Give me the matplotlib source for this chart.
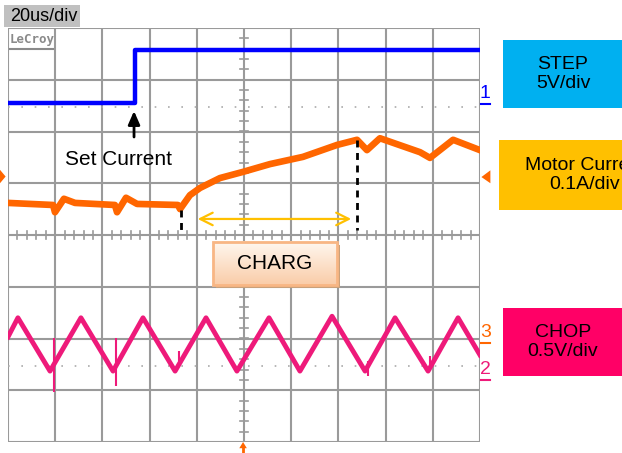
import numpy as np
import matplotlib
matplotlib.use('Agg')
import matplotlib.pyplot as plt
from matplotlib.patches import Rectangle, Polygon

plt.rcParams['font.family'] = ['Liberation Sans', 'DejaVu Sans']

W, H = 622, 453

# scope screen: 10 divisions x 20us, 8 vertical divisions
TIME_PER_DIV = 20

# channel 1 STEP (time us, screen divisions)
step_t = [0, 53.8, 53.8, 200]
step_y = [2.55, 2.55, 3.575, 3.575]

# motor current trace
cur_t = [0, 19.1, 19.9, 23.7, 28.4, 45.3, 46.2, 50.0, 54.7, 72.0, 72.9, 77.1, 81.4,
         89.8, 99.6, 111.0, 125.0, 139.4, 147.9, 152.1, 157.6, 174.6, 178.8,
         188.6, 200]
cur_y = [0.62, 0.58, 0.44, 0.70, 0.62, 0.58, 0.44, 0.72, 0.60, 0.58, 0.50, 0.77, 0.91,
         1.10, 1.22, 1.37, 1.51, 1.74, 1.84, 1.64, 1.87, 1.60, 1.49, 1.84, 1.64]

# chopper triangle
chop_t = [0, 4.2, 17.8, 30.9, 44.5, 57.2, 70.8, 83.9, 97.0, 110.6, 123.7, 137.3,
          151.3, 164.0, 178.0, 190.7, 200]
chop_y = [-1.97, -1.60, -2.63, -1.60, -2.63, -1.60, -2.63, -1.60, -2.63, -1.60,
          -2.63, -1.57, -2.63, -1.60, -2.63, -1.60, -2.32]
# glitches on chop trace (t, y_from, y_to)
spike_t = [19.5, 45.8, 72.5, 152.5, 178.8]
spike_lo = [-3.03, -2.92, -2.43, -2.72, -2.62]
spike_hi = [-1.99, -1.99, -2.24, -2.43, -2.33]

# charge interval markers
charge_start, charge_end = 73.3, 147.9

# channel number labels right of the screen: (text, colour, level)
chan_labels = [('1', '#0000ff', 2.53), ('3', '#ff6600', -2.09), ('2', '#ee1a7a', -2.80)]


def fig_rect(x0, y0, x1, y1):
    '''pixel box (top-left origin) -> figure fraction rect'''
    return (x0 / W, 1 - y1 / H, (x1 - x0) / W, (y1 - y0) / H)


fig = plt.figure(figsize=(W / 100, H / 100), dpi=100)
ax = fig.add_axes(fig_rect(8, 28, 480, 442))
ax.axis('off')

grid_c = '#9a9a9a'
for i in range(11):
    ax.axvline(i * TIME_PER_DIV, color=grid_c, lw=1.5, zorder=1)
for j in range(-4, 5):
    ax.axhline(j, color=grid_c, lw=1.5, zorder=1)

# minor ticks on the centre lines
for yy in np.arange(-4, 4.01, 0.2):
    ax.plot([98.3, 101.7], [yy, yy], color=grid_c, lw=1.2, zorder=1)
for tt in np.arange(0, 200.1, 4):
    ax.plot([tt, tt], [-0.08, 0.08], color=grid_c, lw=1.2, zorder=1)

# dotted reference levels
ax.axhline(2.47, color='#aaaaaa', lw=1.2, ls=(0, (1, 7)), zorder=1)
ax.axhline(-2.53, color='#aaaaaa', lw=1.2, ls=(0, (1, 7)), zorder=1)

# traces
ax.plot(step_t, step_y, color='#0000ff', lw=3.2, zorder=3)
ax.plot(cur_t, cur_y, color='#ff6600', lw=4.8, zorder=3, solid_joinstyle='round')
ax.plot(chop_t, chop_y, color='#ee1a7a', lw=3.5, zorder=3, solid_joinstyle='round')
ax.vlines(spike_t, spike_lo, spike_hi, color='#ee1a7a', lw=1.5, zorder=3)

# charge markers
ax.plot([charge_start, charge_start], [0.48, 0.06], color='black', lw=2,
        ls=(0, (2.5, 2)), zorder=4)
ax.plot([charge_end, charge_end], [1.84, 0.10], color='black', lw=2,
        ls=(0, (2.5, 2)), zorder=4)
ax.annotate('', xy=(79.2, 0.31), xytext=(146.6, 0.31),
            arrowprops=dict(arrowstyle='<->,head_length=0.9,head_width=0.45',
                            color='#ffc000', lw=1.6), zorder=4)

# set current arrow + label
ax.annotate('', xy=(53.4, 2.45), xytext=(53.4, 1.84),
            arrowprops=dict(arrowstyle='-|>,head_length=0.8,head_width=0.35',
                            color='black', lw=2), zorder=5)
ax.text(47.0, 1.45, 'Set Current', fontsize=15, ha='center', va='center', zorder=5)

# CHARG box with gradient and shadow
bx0, bx1, by0, by1 = 86.9, 139.4, -0.97, -0.13
ax.add_patch(Rectangle((bx0 + 1.2, by0 - 0.06), bx1 - bx0, by1 - by0,
                       facecolor='#c9a07a', edgecolor='none', zorder=5))
grad = np.linspace(0, 1, 64).reshape(-1, 1)
top = np.array([1.0, 0.97, 0.94])
bot = np.array([0.98, 0.80, 0.66])
img = top + (bot - top) * grad[..., None]
ax.imshow(img, extent=(bx0, bx1, by0, by1), aspect='auto', zorder=6,
          interpolation='bilinear')
ax.add_patch(Rectangle((bx0, by0), bx1 - bx0, by1 - by0, facecolor='none',
                       edgecolor='#f8b684', lw=2, zorder=7))
ax.text((bx0 + bx1) / 2, (by0 + by1) / 2, 'CHARG', fontsize=15, ha='center',
        va='center', zorder=8)
ax.set_xlim(0, 10 * TIME_PER_DIV)
ax.set_ylim(-4, 4)

# channel markers right of screen
for label, col, lvl in chan_labels:
    ax.text(202.3, lvl + 0.04, label, color=col, fontsize=14,
            family=['Liberation Sans Narrow', 'Liberation Sans'],
            ha='center', va='bottom', clip_on=False)
    ax.plot([200.5, 204.2], [lvl, lvl], color=col, lw=1.5, clip_on=False)

# level / trigger markers
ax.add_patch(Polygon([[-3.4, 1.26], [-3.4, 1.0], [-1.0, 1.13]], closed=True,
                     facecolor='#ff6600', edgecolor='none', clip_on=False))
ax.add_patch(Polygon([[204.4, 1.25], [204.4, 1.0], [200.6, 1.12]], closed=True,
                     facecolor='#ff6600', edgecolor='none', clip_on=False))
ax.add_patch(Polygon([[98.0, -4.12], [101.2, -4.12], [99.6, -4.0]], closed=True,
                     facecolor='#ff6600', edgecolor='none', clip_on=False))
ax.plot([99.6, 99.6], [-4.1, -4.25], color='#ff6600', lw=2, clip_on=False)

# top labels
r = fig_rect(4, 5, 80, 27)
fig.add_artist(Rectangle(r[:2], r[2], r[3], transform=fig.transFigure,
                         facecolor='#c0c0c0', edgecolor='none'))
fig.text(10 / W, 1 - 16.5 / H, '20us/div', fontsize=13, ha='left', va='center')
fig.text(10 / W, 1 - 40 / H, 'LeCroy', fontsize=9, family='DejaVu Sans Mono',
         weight='bold', color='#8a8a8a', ha='left', va='center')
fig.add_artist(plt.Line2D([10 / W, 53 / W], [1 - 49 / H, 1 - 49 / H],
                          transform=fig.transFigure, color='#8a8a8a', lw=1.5))

# channel legend boxes on the right
boxes = [((503, 40, 622, 108), '#00b0f0', 'STEP\n5V/div', 563),
         ((499, 140, 622, 210), '#ffc000', 'Motor Current\n0.1A/div', 585),
         ((503, 308, 622, 376), '#ff0066', 'CHOP\n0.5V/div', 563)]
for (x0, y0, x1, y1), col, label, cx in boxes:
    r = fig_rect(x0, y0, x1, y1)
    fig.add_artist(Rectangle(r[:2], r[2], r[3], transform=fig.transFigure,
                             facecolor=col, edgecolor='none'))
    fig.text(cx / W, 1 - (y0 + y1) / 2 / H, label, fontsize=14, ha='center',
             va='center', linespacing=1.15)

fig.savefig('out.png', dpi=100)
